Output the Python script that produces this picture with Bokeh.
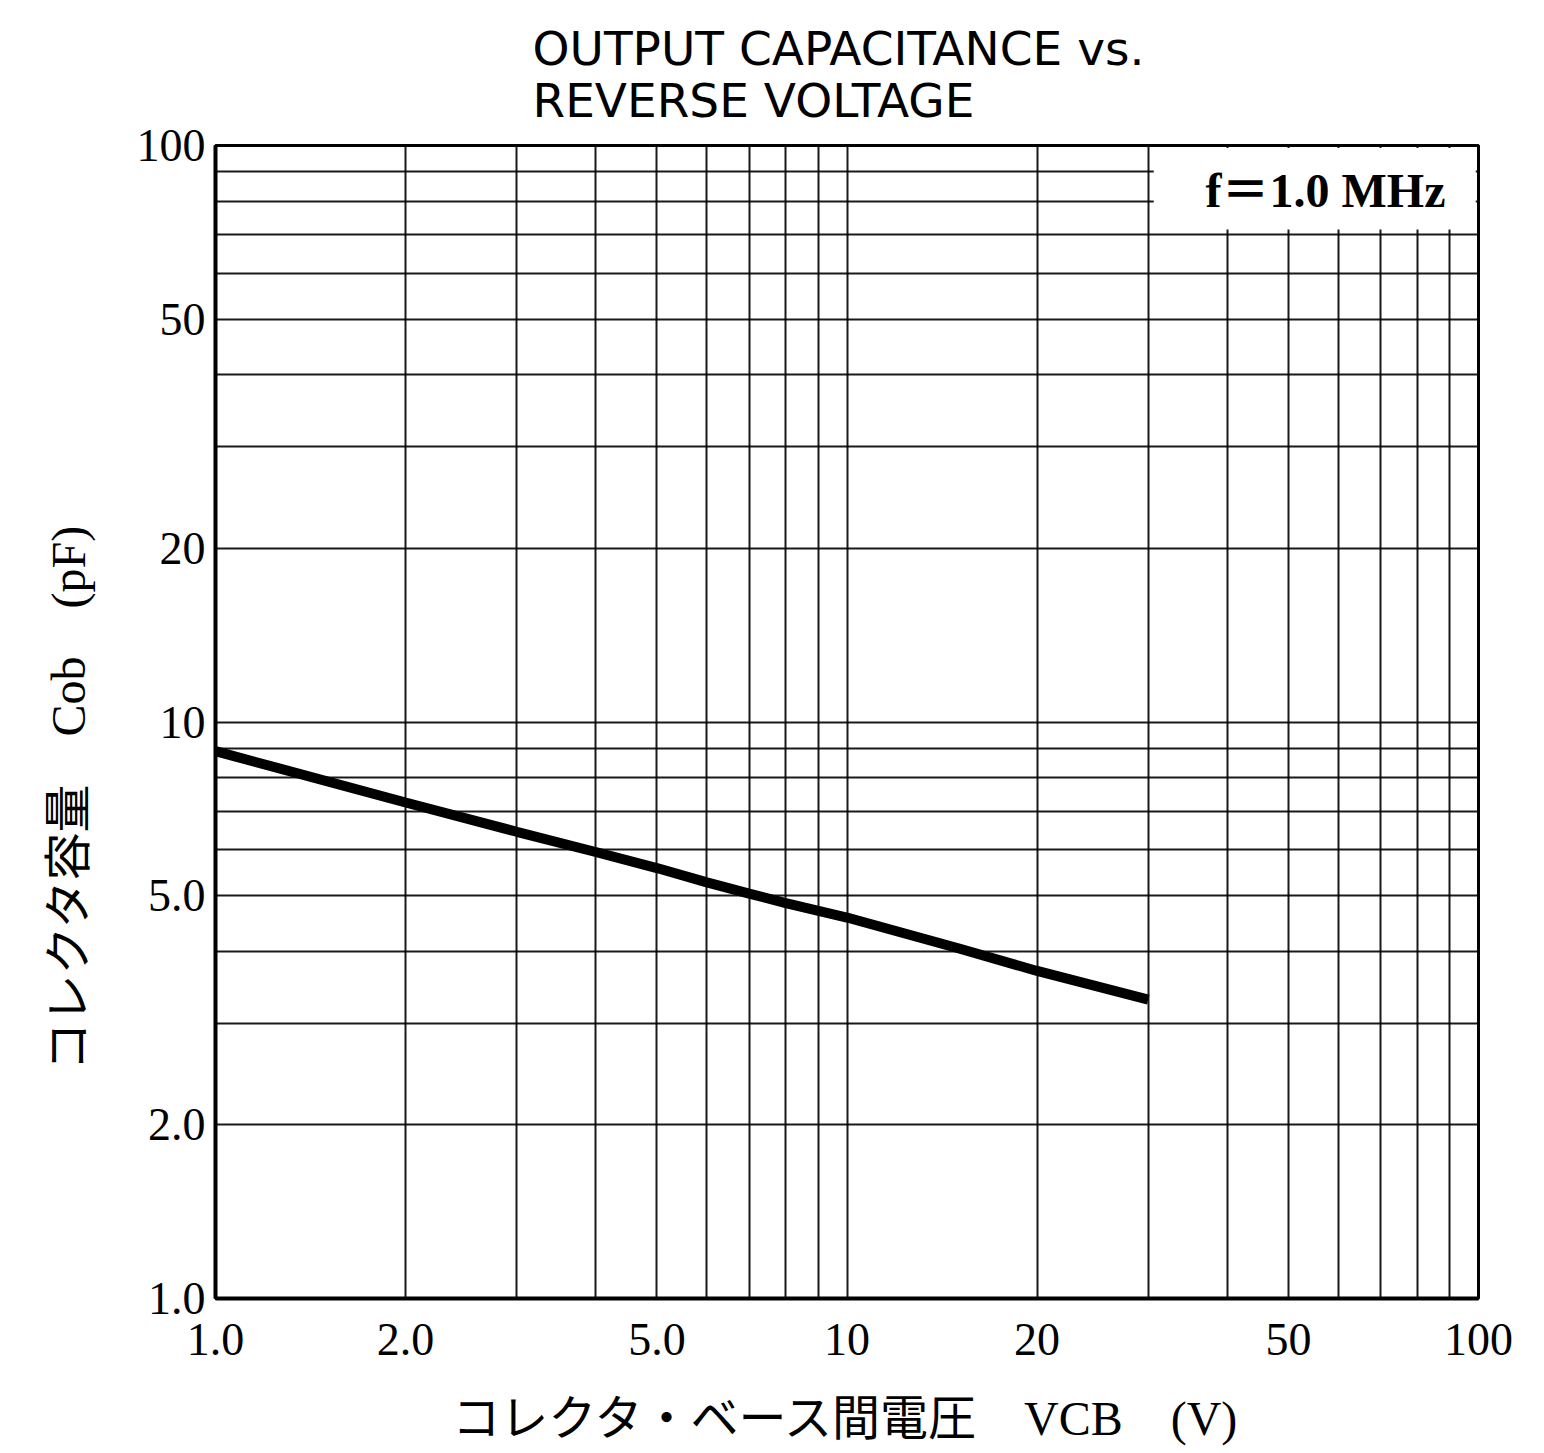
from bokeh.plotting import figure
from bokeh.models import Range1d, FixedTicker, Label, Title, BoxAnnotation
from bokeh.embed import file_html
from bokeh.resources import INLINE

# ---- data ----
vcb = [1, 2, 3, 4, 5, 6, 7, 8, 10, 15, 20, 30]
cob = [8.9, 7.25, 6.45, 5.95, 5.58, 5.27, 5.04, 4.85, 4.58, 4.05, 3.7, 3.3]

x_ticks = [1, 2, 5, 10, 20, 50, 100]
x_tick_labels = ["1.0", "2.0", "5.0", "10", "20", "50", "100"]
y_ticks = [1, 2, 5, 10, 20, 50, 100]
y_tick_labels = ["1.0", "2.0", "5.0", "10", "20", "50", "100"]
grid_values = [1, 2, 3, 4, 5, 6, 7, 8, 9, 10, 20, 30, 40, 50, 60, 70, 80, 90, 100]

title_text = "OUTPUT CAPACITANCE vs.\nREVERSE VOLTAGE"
condition_text = "f＝1.0 MHz"
y_label = "コレクタ容量　Cob　(pF)"
x_label = "コレクタ・ベース間電圧　VCB　(V)"

W, H = 1528, 1448
p = figure(width=W, height=H, x_axis_type="log", y_axis_type="log",
           x_range=Range1d(1, 100), y_range=Range1d(1, 100),
           output_backend="svg", toolbar_location=None, title=None,
           min_border_left=215, min_border_right=50,
           min_border_top=145, min_border_bottom=150)
p.background_fill_color = "white"
p.border_fill_color = "white"
p.outline_line_color = "black"
p.outline_line_width = 3

serif = '"Liberation Serif", "Noto Sans CJK JP"'

for ax, ticks, labels in ((p.xaxis[0], x_ticks, x_tick_labels), (p.yaxis[0], y_ticks, y_tick_labels)):
    ax.ticker = FixedTicker(ticks=ticks)
    ax.major_label_overrides = {t: l for t, l in zip(ticks, labels)}
    ax.minor_tick_line_color = None
    ax.major_tick_in = 0
    ax.major_tick_out = 0
    ax.axis_line_color = "black"
    ax.axis_line_width = 4
    ax.major_label_text_font = serif
    ax.major_label_text_font_size = "46px"
    ax.major_label_text_color = "black"

p.xaxis.major_label_standoff = 25
p.yaxis.major_label_standoff = 10

p.xaxis.axis_label = x_label
p.xaxis.axis_label_text_font = serif
p.xaxis.axis_label_text_font_size = "48px"
p.xaxis.axis_label_text_font_style = "normal"
p.xaxis.axis_label_text_color = "black"
p.xaxis.axis_label_standoff = 34

for g in (p.xgrid[0], p.ygrid[0]):
    g.ticker = FixedTicker(ticks=grid_values)
    g.grid_line_color = "black"
    g.grid_line_width = 2
    g.grid_line_alpha = 0.9

# blank area behind the condition note (top right of the chart)
p.add_layout(BoxAnnotation(left=30.6, right=99, bottom=71.5, top=99, fill_color="white",
                           fill_alpha=1.0, line_color=None, level="underlay"))

p.line(vcb, cob, line_color="black", line_width=10, line_cap="butt")

# condition note
p.add_layout(Label(x=1230, y=1108, x_units="screen", y_units="screen", text=condition_text,
                   text_font=serif, text_font_size="48px", text_font_style="bold",
                   text_align="right", text_baseline="middle", text_color="black"))

# y axis title (vertical, on the left)
p.add_layout(Title(text=y_label, align="left", offset=228, vertical_align="bottom",
                   text_font=serif, text_font_size="48px", text_font_style="normal",
                   text_color="black", standoff=78), "left")

# chart title (two lines)
p.add_layout(Title(text=title_text, align="left", offset=317, text_font="DejaVu Sans",
                   text_font_size="47px", text_font_style="normal", text_color="black",
                   text_line_height=0.95, standoff=35), "above")

open("out.html", "w").write(file_html(p, INLINE))
